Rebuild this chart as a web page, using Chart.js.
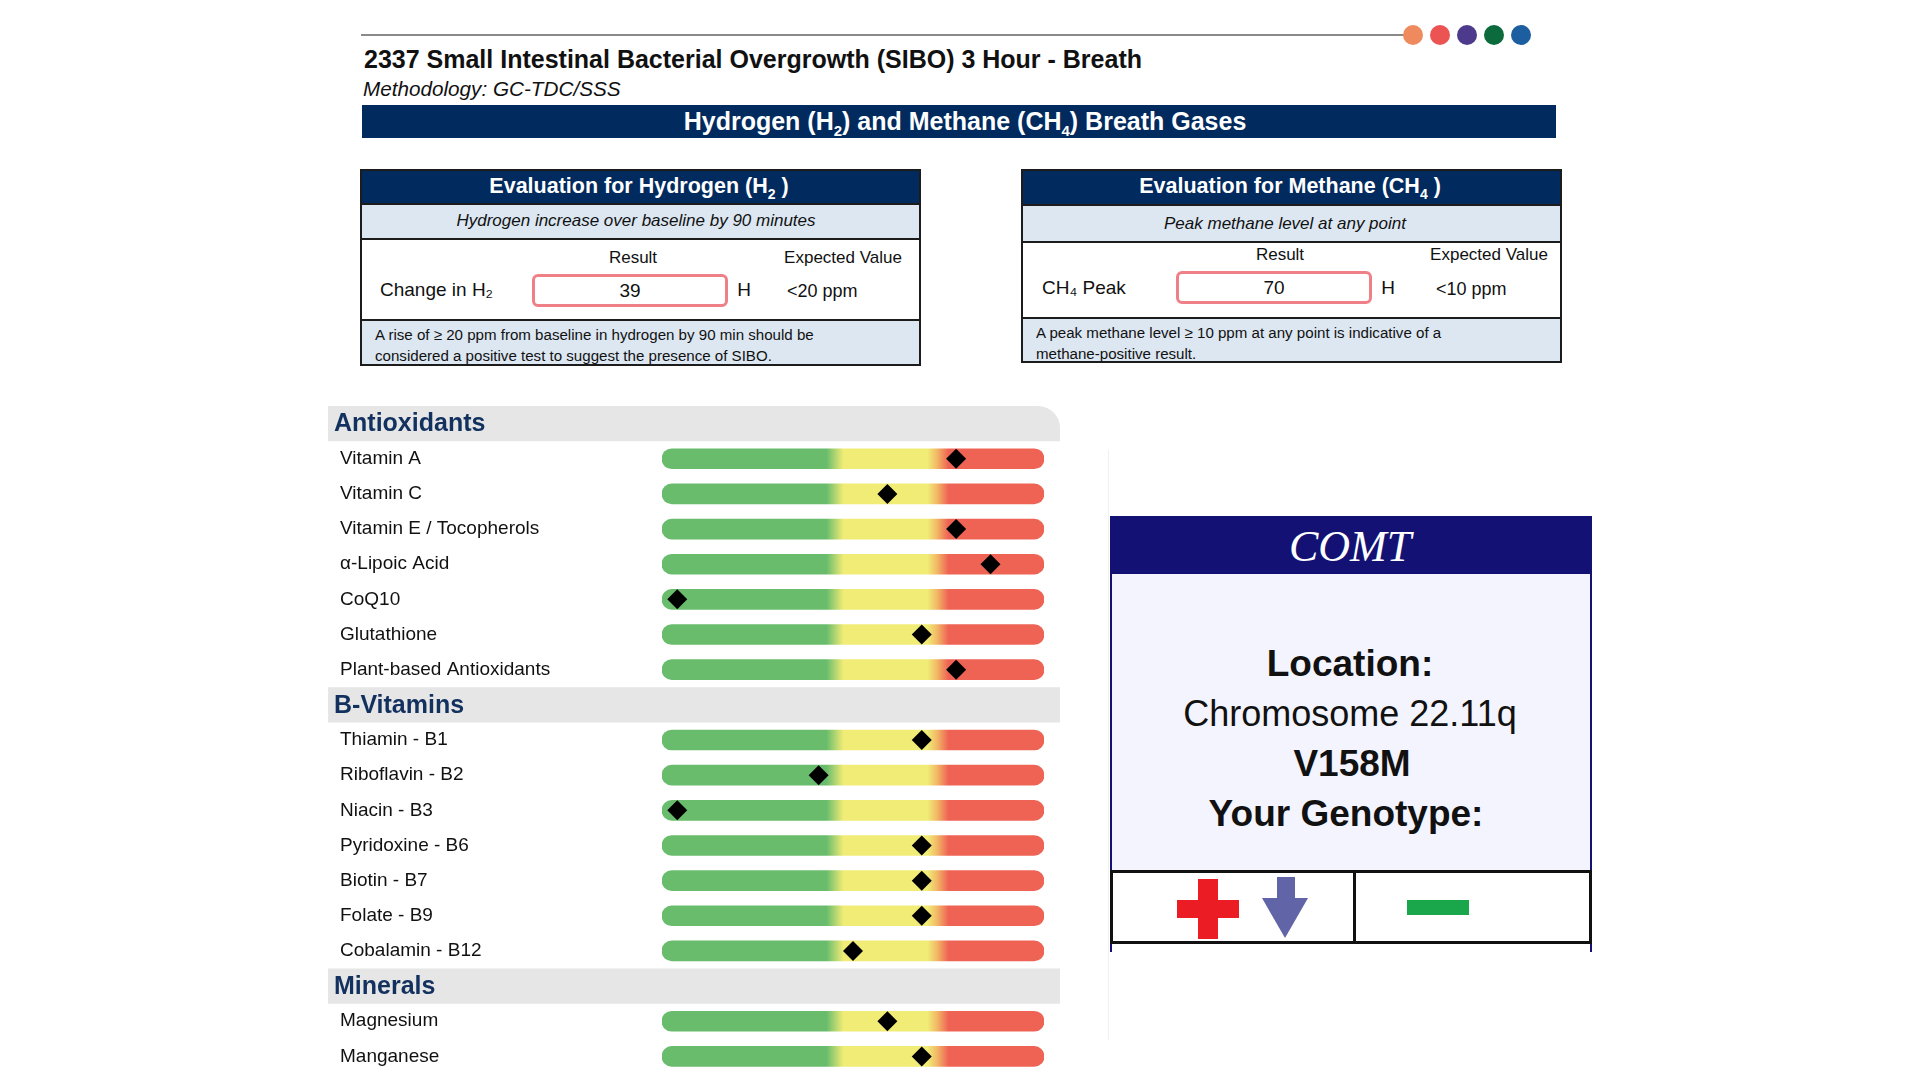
<!DOCTYPE html>
<html>
<head>
<meta charset="utf-8">
<script src="https://cdn.jsdelivr.net/npm/chart.js@4.4.1/dist/chart.umd.min.js"></script>
<style>
  body { margin: 0; width: 1920px; height: 1080px; background: #fff; position: relative; overflow: hidden;
         font-family: "Liberation Sans", Arial, sans-serif; color: #111; }
  .abs { position: absolute; }
  .c { transform: translate(-50%, -50%); white-space: nowrap; }
  .l { transform: translateY(-50%); white-space: nowrap; }
  .evalbox { position: absolute; border: 2px solid #1c1c1c; box-sizing: border-box; }
  .evalbox .hd { position: absolute; left: 0; right: 0; top: 0; background: #012a5e; color: #fff; }
  .evalbox .sub { position: absolute; left: 0; right: 0; background: #dce7f2; border-top: 2px solid #1c1c1c; border-bottom: 2px solid #1c1c1c; box-sizing: border-box; }
  .evalbox .ft { position: absolute; left: 0; right: 0; bottom: 0; background: #dce7f2; border-top: 2px solid #1c1c1c; box-sizing: border-box; }
  .res { position: absolute; border: 3px solid #f08088; border-radius: 6px; box-sizing: border-box; background: #fff;
         font-size: 19px; display: flex; align-items: center; justify-content: center; }
  .dot { position: absolute; width: 20px; height: 20px; border-radius: 50%; top: 25px; }
</style>
</head>
<body>

<!-- header strip -->
<div class="abs" style="left:361px;top:34px;width:1060px;height:2px;background:#8a8a8a"></div>
<div class="dot" style="left:1403px;background:#ee8a5e"></div>
<div class="dot" style="left:1430px;background:#ec5454"></div>
<div class="dot" style="left:1457px;background:#4e3a8c"></div>
<div class="dot" style="left:1484px;background:#0c6b3c"></div>
<div class="dot" style="left:1511px;background:#1c5ea0"></div>

<div class="abs l" style="left:364px;top:59px;font-size:25px;font-weight:bold">2337 Small Intestinal Bacterial Overgrowth (SIBO) 3 Hour - Breath</div>
<div class="abs l" style="left:363px;top:89px;font-size:20.7px;font-style:italic">Methodology: GC-TDC/SSS</div>

<div class="abs" style="left:362px;top:105px;width:1194px;height:33px;background:#012a5e"></div>
<div class="abs c" style="left:965px;top:123px;font-size:25px;font-weight:bold;color:#fff">Hydrogen (H<sub style="font-size:15px">2</sub>) and Methane (CH<sub style="font-size:15px">4</sub>) Breath Gases</div>

<!-- hydrogen evaluation -->
<div class="evalbox" style="left:360px;top:169px;width:561px;height:197px">
  <div class="hd" style="height:33px"></div>
  <div class="abs c" style="left:277px;top:17px;font-size:21.5px;font-weight:bold;color:#fff">Evaluation for Hydrogen (H<sub style="font-size:14px">2</sub> )</div>
  <div class="sub" style="top:32px;height:37px"></div>
  <div class="abs c" style="left:274px;top:50px;font-size:17px;font-style:italic">Hydrogen increase over baseline by 90 minutes</div>
  <div class="abs c" style="left:271px;top:87px;font-size:17px">Result</div>
  <div class="abs c" style="left:481px;top:87px;font-size:17px">Expected Value</div>
  <div class="abs l" style="left:18px;top:119px;font-size:19px">Change in H₂</div>
  <div class="res" style="left:170px;top:103px;width:196px;height:33px">39</div>
  <div class="abs c" style="left:382px;top:119px;font-size:19px">H</div>
  <div class="abs l" style="left:425px;top:120px;font-size:18px">&lt;20 ppm</div>
  <div class="ft" style="height:45px"></div>
  <div class="abs l" style="left:13px;top:163px;font-size:15.1px">A rise of ≥ 20 ppm from baseline in hydrogen by 90 min should be</div>
  <div class="abs l" style="left:13px;top:184px;font-size:15.1px">considered a positive test to suggest the presence of SIBO.</div>
</div>

<!-- methane evaluation -->
<div class="evalbox" style="left:1021px;top:169px;width:541px;height:194px">
  <div class="hd" style="height:34px"></div>
  <div class="abs c" style="left:267px;top:17px;font-size:21.5px;font-weight:bold;color:#fff">Evaluation for Methane (CH<sub style="font-size:14px">4</sub> )</div>
  <div class="sub" style="top:33px;height:39px"></div>
  <div class="abs c" style="left:262px;top:53px;font-size:17px;font-style:italic">Peak methane level at any point</div>
  <div class="abs c" style="left:257px;top:84px;font-size:17px">Result</div>
  <div class="abs c" style="left:466px;top:84px;font-size:17px">Expected Value</div>
  <div class="abs l" style="left:19px;top:117px;font-size:19px">CH₄ Peak</div>
  <div class="res" style="left:153px;top:100px;width:196px;height:33px">70</div>
  <div class="abs c" style="left:365px;top:117px;font-size:19px">H</div>
  <div class="abs l" style="left:413px;top:118px;font-size:18px">&lt;10 ppm</div>
  <div class="ft" style="height:44px"></div>
  <div class="abs l" style="left:13px;top:161px;font-size:15.1px">A peak methane level ≥ 10 ppm at any point is indicative of a</div>
  <div class="abs l" style="left:13px;top:182px;font-size:15.1px">methane-positive result.</div>
</div>

<!-- nutrient chart -->
<div class="abs" style="left:328px;top:406px;width:732px;height:668px">
  <canvas id="nutrientChart"></canvas>
</div>

<!-- COMT panel -->
<div class="abs" style="left:1108px;top:450px;width:1px;height:590px;background:#f1f1f1"></div>
<div class="abs" style="left:1110px;top:516px;width:482px;height:58px;background:#131274"></div>
<div class="abs c" style="left:1350px;top:546px;font-family:'Liberation Serif',serif;font-style:italic;font-size:44px;color:#fff">COMT</div>
<div class="abs" style="left:1110px;top:574px;width:482px;height:296px;background:#f3f4fe;border-left:2px solid #131274;border-right:2px solid #131274;box-sizing:border-box"></div>
<div class="abs c" style="left:1350px;top:664px;font-size:37px;font-weight:bold">Location:</div>
<div class="abs c" style="left:1350px;top:714px;font-size:36px">Chromosome 22.11q</div>
<div class="abs c" style="left:1352px;top:764px;font-size:37px;font-weight:bold">V158M</div>
<div class="abs c" style="left:1346px;top:814px;font-size:37px;font-weight:bold">Your Genotype:</div>
<div class="abs" style="left:1110px;top:870px;width:482px;height:74px;border:3px solid #111;box-sizing:border-box;background:#fff"></div>
<div class="abs" style="left:1353px;top:870px;width:3px;height:74px;background:#111"></div>
<div class="abs" style="left:1110px;top:944px;width:482px;height:8px;border-left:2px solid #131274;border-right:2px solid #131274;box-sizing:border-box"></div>
<div class="abs" style="left:1177px;top:900px;width:62px;height:18px;background:#ec1c24"></div>
<div class="abs" style="left:1198px;top:879px;width:20px;height:60px;background:#ec1c24"></div>
<div class="abs" style="left:1277px;top:877px;width:18px;height:30px;background:#6264a8"></div>
<div class="abs" style="left:1262px;top:898px;width:0;height:0;border-left:23px solid transparent;border-right:23px solid transparent;border-top:40px solid #6264a8"></div>
<div class="abs" style="left:1407px;top:900px;width:62px;height:15px;background:#1aa64b"></div>

<script>
// rows of the panel, group headings included
const categories = [
  "Antioxidants",
  "Vitamin A", "Vitamin C", "Vitamin E / Tocopherols", "α-Lipoic Acid",
  "CoQ10", "Glutathione", "Plant-based Antioxidants",
  "B-Vitamins",
  "Thiamin - B1", "Riboflavin - B2", "Niacin - B3", "Pyridoxine - B6",
  "Biotin - B7", "Folate - B9", "Cobalamin - B12",
  "Minerals",
  "Magnesium", "Manganese"
];
const groupHeaders = ["Antioxidants", "B-Vitamins", "Minerals"];

// marker position along the range (0 = low, 100 = high); null on heading rows
const markerValues = [
  null,
  77, 59, 77, 86, 4, 68, 77,
  null,
  68, 41, 4, 68, 68, 68, 50,
  null,
  59, 68
];

const scaleMin = 0;
const scaleMax = 100;

const isHeader = (label) => groupHeaders.includes(label);
const rangeBars = categories.map((c) => (isHeader(c) ? null : [scaleMin, scaleMax]));

const rangeGradient = (context) => {
  const chart = context.chart;
  if (!chart.chartArea) return "#66bb6a";
  const x = chart.scales.x;
  const x0 = x.getPixelForValue(scaleMin);
  const x1 = x.getPixelForValue(scaleMax);
  const g = chart.ctx.createLinearGradient(x0, 0, x1, 0);
  g.addColorStop(0, "#68bc6c");
  g.addColorStop(0.43, "#68bc6c");
  g.addColorStop(0.475, "#f0ec76");
  g.addColorStop(0.695, "#f0ec76");
  g.addColorStop(0.72, "#f2b866");
  g.addColorStop(0.75, "#ee6354");
  g.addColorStop(1, "#ee6354");
  return g;
};

// grey band and title for each group heading
const headerBands = {
  id: "headerBands",
  beforeDraw(chart) {
    const ctx = chart.ctx;
    const y = chart.scales.y;
    const half = (y.getPixelForValue(1) - y.getPixelForValue(0)) / 2;
    ctx.save();
    ctx.fillStyle = "#e6e6e6";
    categories.forEach((c, i) => {
      if (!isHeader(c)) return;
      const top = y.getPixelForValue(i) - half;
      ctx.beginPath();
      if (i === 0) {
        ctx.roundRect(0, top, chart.width, half * 2, [0, 22, 0, 0]);
      } else {
        ctx.rect(0, top, chart.width, half * 2);
      }
      ctx.fill();
    });
    ctx.fillStyle = "#12315f";
    ctx.font = "bold 25px 'Liberation Sans'";
    ctx.textBaseline = "middle";
    categories.forEach((c, i) => {
      if (isHeader(c)) ctx.fillText(c, 6, y.getPixelForValue(i) + 1);
    });
    ctx.restore();
  }
};

new Chart(document.getElementById("nutrientChart"), {
  type: "bar",
  data: {
    labels: categories,
    datasets: [
      {
        type: "line",
        indexAxis: "y",
        data: markerValues,
        showLine: false,
        pointStyle: "rectRot",
        pointRadius: 10,
        backgroundColor: "#000",
        borderColor: "#000",
        borderWidth: 0,
        order: 0
      },
      {
        data: rangeBars,
        backgroundColor: rangeGradient,
        barThickness: 20,
        borderRadius: 10,
        borderSkipped: false,
        order: 1
      }
    ]
  },
  options: {
    indexAxis: "y",
    responsive: true,
    maintainAspectRatio: false,
    animation: false,
    events: [],
    layout: { autoPadding: false, padding: { left: 12, right: 16, top: 0, bottom: 0 } },
    plugins: { legend: { display: false }, tooltip: { enabled: false } },
    scales: {
      x: { display: false, min: scaleMin, max: scaleMax },
      y: {
        grid: { display: false },
        border: { display: false },
        afterFit: (scale) => {
          scale.width = 322;
          // rows fill the whole height; labels never reach the edges
          scale.paddingTop = 0;
          scale.paddingBottom = 0;
        },
        ticks: {
          crossAlign: "far",
          autoSkip: false,
          padding: 0,
          color: "#111",
          font: { family: "Liberation Sans", size: 19 },
          callback: (value, index) => (isHeader(categories[index]) ? "" : categories[index])
        }
      }
    }
  },
  plugins: [headerBands]
});
</script>
</body>
</html>
